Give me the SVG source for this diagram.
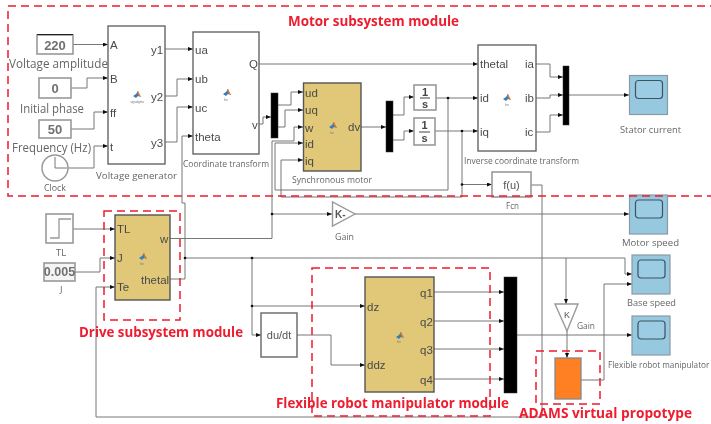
<svg xmlns="http://www.w3.org/2000/svg" width="711" height="424" viewBox="0 0 711 424">
<style>
text{font-family:"Liberation Sans",Arial,sans-serif}
.b{fill:#fff;stroke:#666;stroke-width:1.4}
.y{fill:#e0c878;stroke:#555;stroke-width:1.4}
.c{fill:#fff;stroke:#999;stroke-width:1.6}
.k{fill:#000;stroke:#333;stroke-width:.5}
.s{fill:#96c8e0;stroke:#8a9aa3;stroke-width:1.2}
.si{fill:#9ccce3;stroke:#3d5260;stroke-width:1.2}
.wa{fill:none;stroke:#777;stroke-width:1;marker-end:url(#a)}
.d{fill:#111}
.p{font-size:11.5px;fill:#4a4a4a}
.v{font-size:13px;font-weight:bold;fill:#707070;text-anchor:middle}
.l{font-family:"Open Sans","Noto Sans",sans-serif;font-size:9.500px;fill:#666}
.m{font-family:"Open Sans","Noto Sans",sans-serif;font-size:12.5px;fill:#666}
.r{font-family:"Open Sans","Noto Sans",sans-serif;font-size:14px;font-weight:bold;fill:#ee1c2e}
.rb{fill:none;stroke:#ee1c2e;stroke-width:1.5;stroke-dasharray:8 5}
.t{font-size:3px;fill:#777;text-anchor:middle}
</style>
<defs>
<filter id="soft" x="0" y="0" width="100%" height="100%" filterUnits="userSpaceOnUse"><feGaussianBlur stdDeviation="0.35"/></filter>
<marker id="a" markerUnits="userSpaceOnUse" markerWidth="5" markerHeight="4" refX="5" refY="2" orient="auto"><path d="M0 0L5 2L0 4z" fill="#111"/></marker>
<g id="logo"><path d="M-4 1L-1 -1L1 -4L2 -1L4 2L1 1L-1 3z" fill="#3a7cb8"/><path d="M0 -3.5L1 -4L2.500 -1L4 2L1.500 0.500z" fill="#e8762b"/></g>
<g id="scope"><rect class="s" x="0" y="0" width="38" height="39"/><rect class="si" x="6" y="5" width="27" height="18" rx="3"/></g>
</defs>
<g id="diagram" filter="url(#soft)">
<g id="connectors">
<path class="wa" d="M73 44.500H108"/>
<path class="wa" d="M71 88H87V78H108"/>
<path class="wa" d="M71 129H94V112H108"/>
<path class="wa" d="M68 168H94V146H108"/>
<path class="wa" d="M165 49H193"/>
<path class="wa" d="M165 96H177V79H193"/>
<path class="wa" d="M165 142H177V107H193"/>
<path class="wa" d="M170 279H185V203H182V136H193"/>
<path class="wa" d="M259 64H478"/>
<path class="wa" d="M259 124H263V117H271"/>
<path class="wa" d="M278 105H291V92H303"/>
<path class="wa" d="M278 127H285V110H303"/>
<path class="wa" d="M170 238.500H272V141H294V127H303"/>
<path class="wa" d="M448 98V190H275V143H303"/>
<path class="wa" d="M462 131V197H281V160H303"/>
<path class="wa" d="M361 127H386"/>
<path class="wa" d="M393 115H404V97H414"/>
<path class="wa" d="M393 140H404V131H414"/>
<path class="wa" d="M436 98H478"/>
<path class="wa" d="M435 131H478"/>
<path class="wa" d="M462 184.500H492"/>
<path class="wa" d="M536 64H550V77H563"/>
<path class="wa" d="M536 98H550V95H563"/>
<path class="wa" d="M536 132H550V115H563"/>
<path class="wa" d="M569 95H629"/>
<path class="wa" d="M272 214H332"/>
<path class="wa" d="M355 214H629"/>
<path class="wa" d="M72 229H115"/>
<path class="wa" d="M75 272H100V258H115"/>
<path class="wa" d="M531 185H542V417H96V287H115"/>
<path class="wa" d="M185 258H625V274H632"/>
<path class="wa" d="M252 258V335H261"/>
<path class="wa" d="M252 306H365"/>
<path class="wa" d="M297 335H331V365H365"/>
<path class="wa" d="M434 292H504"/>
<path class="wa" d="M434 321H504"/>
<path class="wa" d="M434 349H504"/>
<path class="wa" d="M434 379H504"/>
<path class="wa" d="M517 335H632"/>
<path class="wa" d="M566 258V304"/>
<path class="wa" d="M567 331V358"/>
<path class="wa" d="M581 380H604V284H632"/>
<circle class="d" cx="448" cy="98" r="1.300"/>
<circle class="d" cx="462" cy="131" r="1.300"/>
<circle class="d" cx="462" cy="184.500" r="1.300"/>
<circle class="d" cx="272" cy="214" r="1.300"/>
<circle class="d" cx="185" cy="258" r="1.300"/>
<circle class="d" cx="252" cy="258" r="1.300"/>
<circle class="d" cx="252" cy="306" r="1.300"/>
</g>

<g id="const-220"><rect class="c" x="37" y="35" width="36" height="19"/><path d="M37 34.500H73" stroke="#222" stroke-width="1"/><text class="v" x="55" y="50">220</text></g>
<g id="label-va"><text class="m" x="9" y="68" textLength="99" lengthAdjust="spacingAndGlyphs">Voltage amplitude</text></g>
<g id="const-0"><rect class="c" x="39" y="78" width="32" height="20"/><text class="v" x="55" y="93">0</text></g>
<g id="label-ip"><text class="m" x="20" y="113" textLength="64" lengthAdjust="spacingAndGlyphs">Initial phase</text></g>
<g id="const-50"><rect class="c" x="39" y="120" width="32" height="18"/><text class="v" x="55" y="134">50</text></g>
<g id="label-fr"><text class="m" x="12" y="152" textLength="79" lengthAdjust="spacingAndGlyphs">Frequency (Hz)</text></g>
<g id="clock"><circle cx="55" cy="168" r="13" fill="#fff" stroke="#999" stroke-width="1.500"/><path d="M55 157V168H67" fill="none" stroke="#777"/><text class="l" x="44" y="191" textLength="22" lengthAdjust="spacingAndGlyphs">Clock</text></g>

<g id="voltage-generator"><rect class="b" x="108" y="26" width="57" height="138"/>
<text class="p" x="110" y="49">A</text><text class="p" x="110" y="83">B</text><text class="p" x="110" y="117">ff</text><text class="p" x="110" y="151">t</text>
<text class="p" x="151" y="54">y1</text><text class="p" x="151" y="101">y2</text><text class="p" x="151" y="147">y3</text>
<use href="#logo" x="137" y="95"/><text class="t" x="137" y="103">signalgmo</text>
<text class="l" x="96" y="179" textLength="81" lengthAdjust="spacingAndGlyphs">Voltage generator</text></g>

<g id="coordinate-transform"><rect class="b" x="193" y="32" width="66" height="122"/>
<text class="p" x="195" y="54">ua</text><text class="p" x="195" y="83">ub</text><text class="p" x="195" y="112">uc</text><text class="p" x="195" y="141">theta</text>
<text class="p" x="249" y="68">Q</text><text class="p" x="252" y="129">v</text>
<use href="#logo" x="227" y="93"/><text class="t" x="226" y="101">fcn</text>
<text class="l" x="183" y="167" textLength="86" lengthAdjust="spacingAndGlyphs">Coordinate transform</text></g>

<g id="mux-1"><rect class="k" x="271" y="93" width="7" height="45"/></g>

<g id="synchronous-motor"><rect class="y" x="303.500" y="83" width="57.500" height="88"/>
<text class="p" x="305" y="97">ud</text><text class="p" x="305" y="114">uq</text><text class="p" x="305" y="132">w</text><text class="p" x="305" y="148">id</text><text class="p" x="305" y="165">iq</text>
<text class="p" x="348" y="131">dv</text>
<use href="#logo" x="333" y="126"/><text class="t" x="332" y="134">fcn</text>
<text class="l" x="292" y="183" textLength="80" lengthAdjust="spacingAndGlyphs">Synchronous motor</text></g>

<g id="mux-2"><rect class="k" x="386" y="101" width="7" height="51"/></g>
<g id="integrator-1"><rect class="c" x="414" y="85" width="22" height="25"/><text x="425" y="96" font-size="11" font-weight="bold" fill="#444" text-anchor="middle">1</text><path d="M420 98H430" stroke="#444"/><text x="425" y="108" font-size="11" font-weight="bold" fill="#444" text-anchor="middle">s</text></g>
<g id="integrator-2"><rect class="c" x="414" y="118" width="21" height="27"/><text x="424.500" y="129" font-size="11" font-weight="bold" fill="#444" text-anchor="middle">1</text><path d="M419 132H430" stroke="#444"/><text x="424.500" y="142" font-size="11" font-weight="bold" fill="#444" text-anchor="middle">s</text></g>

<g id="inverse-coordinate-transform"><rect class="b" x="478" y="45" width="58" height="106"/>
<text class="p" x="480" y="68">thetal</text><text class="p" x="480" y="102">id</text><text class="p" x="480" y="136">iq</text>
<text class="p" x="525" y="68">ia</text><text class="p" x="525" y="102">ib</text><text class="p" x="525" y="136">ic</text>
<use href="#logo" x="507" y="98"/><text class="t" x="507" y="106">fcn</text>
<text class="l" x="464" y="164" textLength="115" lengthAdjust="spacingAndGlyphs">Inverse coordinate transform</text></g>

<g id="mux-3"><rect class="k" x="563" y="66" width="6" height="59"/></g>
<g id="stator-current"><use href="#scope" x="629.500" y="75.500"/><text class="l" x="620" y="132.500" textLength="61" lengthAdjust="spacingAndGlyphs">Stator current</text></g>

<g id="fcn"><rect class="c" x="492" y="172" width="39" height="25"/><text x="511.500" y="189" font-size="11" fill="#555" text-anchor="middle">f(u)</text><text class="l" x="506" y="209" textLength="13" lengthAdjust="spacingAndGlyphs">Fcn</text></g>

<g id="motor-speed"><use href="#scope" x="629.500" y="195"/><text class="l" x="622" y="246" textLength="57" lengthAdjust="spacingAndGlyphs">Motor speed</text></g>

<g id="gain-1"><path d="M332.500 202V226L355 214z" fill="#fff" stroke="#999" stroke-width="1.400"/><text x="335" y="218" font-size="10" font-weight="bold" fill="#555">K-</text><text class="l" x="335" y="240" textLength="19" lengthAdjust="spacingAndGlyphs">Gain</text></g>

<g id="tl"><rect class="c" x="46" y="214" width="27" height="29"/><path d="M50 238H59V219H71" fill="none" stroke="#999" stroke-width="1.300"/><text class="l" x="56" y="256">TL</text></g>
<g id="j"><rect x="44" y="263" width="31" height="18" fill="#f4f4f4" stroke="#999" stroke-width="1.600"/><text x="59.500" y="276" font-size="12.500" font-weight="bold" fill="#707070" text-anchor="middle">0.005</text><text class="l" x="60" y="293">J</text></g>

<g id="drive-subsystem"><rect class="y" x="115" y="215" width="55" height="85"/>
<text class="p" x="117" y="233">TL</text><text class="p" x="117" y="262">J</text><text class="p" x="117" y="291">Te</text>
<text class="p" x="160" y="243">w</text><text class="p" x="141" y="284">thetal</text>
<use href="#logo" x="143" y="257"/><text class="t" x="142" y="265">fcn</text></g>

<g id="du-dt"><rect class="b" x="261" y="313" width="36" height="44"/><text x="279" y="339" font-size="11" fill="#555" text-anchor="middle">du/dt</text></g>

<g id="robot-manipulator"><rect class="y" x="365" y="277" width="69" height="115"/>
<text class="p" x="367" y="311">dz</text><text class="p" x="367" y="369">ddz</text>
<text class="p" x="420" y="297">q1</text><text class="p" x="420" y="326">q2</text><text class="p" x="420" y="354">q3</text><text class="p" x="420" y="384">q4</text>
<use href="#logo" x="400" y="336"/><text class="t" x="399" y="343">fcn</text></g>

<g id="mux-4"><rect class="k" x="504" y="277" width="13" height="116"/></g>

<g id="base-speed"><use href="#scope" x="632" y="255"/><text class="l" x="627" y="306" textLength="49" lengthAdjust="spacingAndGlyphs">Base speed</text></g>
<g id="flexible-robot-manipulator"><use href="#scope" x="632" y="316"/><text x="608" y="368" font-size="8.200" fill="#666" style="font-family:'Open Sans','Noto Sans',sans-serif">Flexible robot manipulator</text></g>

<g id="gain-2"><path d="M555 304H578L567 331z" fill="#fff" stroke="#999" stroke-width="1.400"/><text x="567" y="318" font-size="9" fill="#555" text-anchor="middle">K</text><text class="l" x="577" y="329" textLength="18" lengthAdjust="spacingAndGlyphs">Gain</text></g>
<g id="adams"><rect x="555" y="358" width="26" height="41" fill="#ff8020" stroke="#888" stroke-width="1.300"/></g>

<g id="motor-module"><rect class="rb" x="8" y="6" width="720" height="190"/><text class="r" x="288" y="26" textLength="171" lengthAdjust="spacingAndGlyphs">Motor subsystem module</text></g>
<g id="drive-module"><rect class="rb" x="104" y="211" width="76" height="109"/><text class="r" x="79" y="337" textLength="164" lengthAdjust="spacingAndGlyphs">Drive subsystem module</text></g>
<g id="robot-module"><rect class="rb" x="312" y="268" width="178" height="148"/><text class="r" x="276" y="408" textLength="233" lengthAdjust="spacingAndGlyphs">Flexible robot manipulator module</text></g>
<g id="adams-module"><rect class="rb" x="536" y="351" width="64" height="53"/><text class="r" x="519" y="418" textLength="173" lengthAdjust="spacingAndGlyphs">ADAMS virtual propotype</text></g>
</g>
</svg>
